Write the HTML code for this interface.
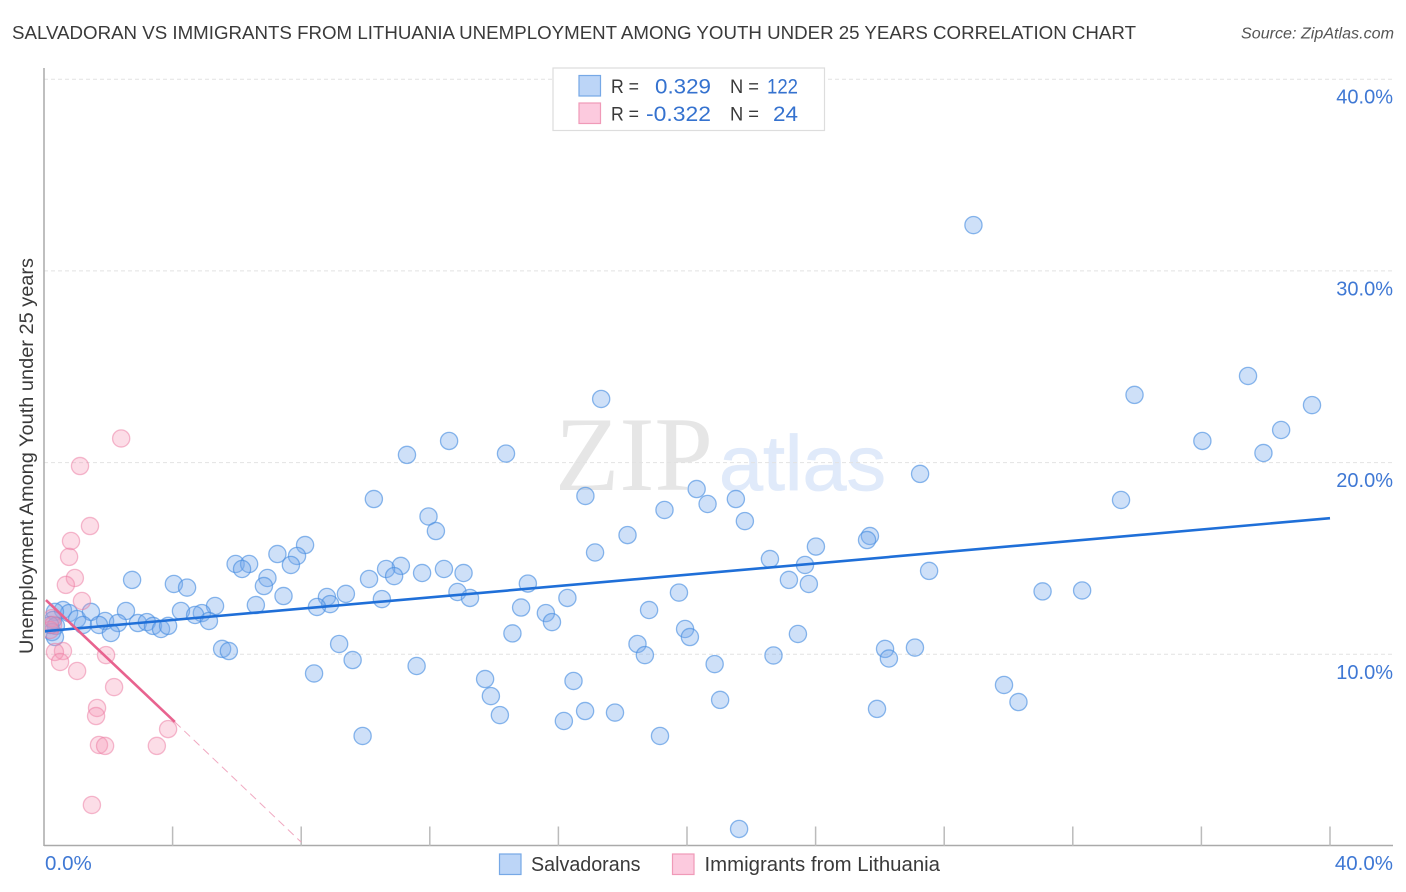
<!DOCTYPE html>
<html>
<head>
<meta charset="utf-8">
<title>Salvadoran vs Immigrants from Lithuania Correlation Chart</title>
<style>
html,body{margin:0;padding:0;background:#fff;width:1406px;height:892px;overflow:hidden}
svg{display:block;font-family:"Liberation Sans",sans-serif}
</style>
</head>
<body>
<svg id="chart" width="1406" height="892" viewBox="0 0 1406 892" xmlns="http://www.w3.org/2000/svg">
  <defs>
    <clipPath id="plot-clip"><rect x="45" y="60" width="1350" height="786"/></clipPath>
  </defs>
  <rect x="0" y="0" width="1406" height="892" fill="#fff"/>
  <text x="12" y="39" font-size="18.5" fill="#3a3a3a" textLength="1124" lengthAdjust="spacingAndGlyphs">SALVADORAN VS IMMIGRANTS FROM LITHUANIA UNEMPLOYMENT AMONG YOUTH UNDER 25 YEARS CORRELATION CHART</text>
  <text x="1241" y="38.5" font-size="15.5" font-style="italic" fill="#555" textLength="153" lengthAdjust="spacingAndGlyphs">Source: ZipAtlas.com</text>
  <text x="555" y="490" font-family="'Liberation Serif',serif" font-size="106" fill="#e6e6e6" textLength="158" lengthAdjust="spacingAndGlyphs">ZIP</text>
  <text x="719" y="490" font-family="'Liberation Sans',sans-serif" font-size="78" fill="#e0eafa" stroke="#e0eafa" stroke-width="0.8" textLength="167" lengthAdjust="spacingAndGlyphs">atlas</text>
  <g id="grid"></g>
  <line x1="44" y1="68" x2="44" y2="846" stroke="#aaa" stroke-width="1.5"/>
  <line x1="44" y1="845.5" x2="1393" y2="845.5" stroke="#aaa" stroke-width="1.5"/>
  <g id="xticks"></g>
  <g id="ylabels"></g>
  <g id="xlabels"></g>
  <text transform="translate(33,456) rotate(-90)" text-anchor="middle" font-size="19" fill="#3a3a3a" textLength="396" lengthAdjust="spacingAndGlyphs">Unemployment Among Youth under 25 years</text>
  <g clip-path="url(#plot-clip)">
    <g id="blue-points"></g>
    <g id="pink-points"></g>
    <g id="trends"></g>
  </g>

  <g>
    <rect x="553" y="68" width="271.5" height="62.5" fill="#fff" stroke="#ddd" stroke-width="1.2"/>
    <rect x="579" y="75.5" width="21.5" height="20.5" fill="#bcd5f7" stroke="#76a8e6" stroke-width="1.2"/>
    <rect x="579" y="103" width="21.5" height="20.5" fill="#fccade" stroke="#f09ab8" stroke-width="1.2"/>
    <text x="611" y="93" font-size="19.5" fill="#3a3a3a" textLength="28" lengthAdjust="spacingAndGlyphs">R =</text>
    <text x="611" y="120.5" font-size="19.5" fill="#3a3a3a" textLength="28" lengthAdjust="spacingAndGlyphs">R =</text>
    <text x="655" y="93.5" font-size="21.5" fill="#3572cf" textLength="56" lengthAdjust="spacingAndGlyphs">0.329</text>
    <text x="646" y="121" font-size="21.5" fill="#3572cf" textLength="65" lengthAdjust="spacingAndGlyphs">-0.322</text>
    <text x="730" y="93" font-size="19.5" fill="#3a3a3a" textLength="29" lengthAdjust="spacingAndGlyphs">N =</text>
    <text x="730" y="120.5" font-size="19.5" fill="#3a3a3a" textLength="29" lengthAdjust="spacingAndGlyphs">N =</text>
    <text x="767" y="93.5" font-size="21.5" fill="#3572cf" textLength="31" lengthAdjust="spacingAndGlyphs">122</text>
    <text x="773" y="121" font-size="21.5" fill="#3572cf" textLength="25" lengthAdjust="spacingAndGlyphs">24</text>
  </g>

  <g>
    <rect x="499.5" y="854" width="21.5" height="20.5" fill="#bcd5f7" stroke="#76a8e6" stroke-width="1.2"/>
    <text x="531" y="871" font-size="20" fill="#3a3a3a" textLength="109.5" lengthAdjust="spacingAndGlyphs">Salvadorans</text>
    <rect x="672.5" y="854" width="21.5" height="20.5" fill="#fccade" stroke="#f09ab8" stroke-width="1.2"/>
    <text x="704.5" y="871" font-size="20" fill="#3a3a3a" textLength="235.5" lengthAdjust="spacingAndGlyphs">Immigrants from Lithuania</text>
  </g>
</svg>
<script>
var xTickValues = [4, 8, 12, 16, 20, 24, 28, 32, 36, 40];
var yTickValues = [10, 20, 30, 40];
var yTickLabels = ["10.0%", "20.0%", "30.0%", "40.0%"];
var xEndValues = [0, 40];
var xEndLabels = ["0.0%", "40.0%"];

var salvadoransX = [28.91,17.33,37.45,33.92,39.44,38.48,36.03,12.60,11.29,14.37,37.93,27.25,20.30,10.26,16.84,21.52,33.50,20.64,19.30,11.96,21.80,12.19,18.15,25.69,25.60,24.01,8.12,7.87,7.26,5.96,6.38,6.16,7.68,17.14,22.58,23.67,11.10,10.64,12.44,10.89,11.76,13.05,27.53,10.11,6.95,6.84,23.17,23.79,15.05,2.74,4.04,4.45,31.06,32.29,19.75,9.39,7.45,8.80,10.51,12.86,13.25,16.28,6.59,5.32,8.90,8.49,14.84,18.82,15.61,4.91,4.26,2.55,4.70,5.13,15.80,19.94,14.57,20.09,23.45,9.18,18.46,5.54,5.75,26.16,27.09,18.69,26.28,22.69,9.60,11.59,20.86,8.40,13.72,16.47,29.86,13.90,21.03,30.31,25.91,14.18,16.83,17.76,16.17,19.16,9.91,21.62,0.59,0.78,1.03,1.46,1.90,1.21,1.71,2.30,2.08,2.92,3.20,3.39,3.64,3.86,0.34,0.28,0.37,0.25,0.34,0.19];
var salvadoransY = [32.39,23.32,24.52,23.53,23.00,21.70,21.13,21.13,20.40,20.47,20.50,19.41,18.62,18.10,18.26,18.10,18.05,17.84,17.53,17.19,16.95,16.43,16.22,16.17,15.96,15.62,15.70,15.13,15.23,14.71,14.71,14.45,14.66,15.31,14.97,14.66,14.61,14.45,14.45,14.08,14.24,14.24,14.35,13.93,13.98,13.56,13.88,13.67,13.69,13.88,13.67,13.48,13.28,13.33,13.22,13.15,13.04,12.99,12.88,13.25,12.94,12.94,12.57,12.52,12.62,12.47,12.44,12.31,12.15,12.15,12.26,12.26,12.05,11.74,11.68,11.32,11.09,10.90,11.06,10.54,10.54,10.28,10.17,10.28,10.35,9.96,9.78,9.94,9.70,9.39,9.49,9.00,8.71,8.61,8.40,7.82,7.62,7.51,7.15,6.83,7.04,6.96,6.52,5.74,5.74,0.89,12.31,12.15,11.84,12.21,11.74,11.53,11.53,11.63,11.11,11.63,11.68,11.48,11.32,11.48,12.21,11.79,11.48,11.16,10.90,11.53];

var lithuaniaX = [2.40,1.12,1.43,0.84,0.78,0.96,0.68,1.18,0.59,0.34,0.50,1.93,1.03,2.18,1.65,1.62,3.86,1.71,1.90,3.51,1.49,0.25,0.19,0.28];
var lithuaniaY = [21.26,19.82,16.69,15.91,15.08,13.98,13.62,12.78,10.17,10.12,9.60,9.96,9.13,8.29,7.20,6.78,6.10,5.27,5.22,5.22,2.14,11.89,11.27,11.53];

var salvadoransTrendX = [0, 40];
var salvadoransTrendY = [11.2, 17.1];
var lithuaniaTrendX = [0.06, 4.07];
var lithuaniaTrendY = [12.83, 6.47];
var lithuaniaDashX = [4.07, 8.0];
var lithuaniaDashY = [6.47, 0.2];

var NS = "http://www.w3.org/2000/svg";
function xScale(v) { return 44 + v * 32.15; }
function yScale(v) { return 846 - v * 19.17; }
function make(tag, attrs, parentId) {
  var el = document.createElementNS(NS, tag);
  for (var k in attrs) { el.setAttribute(k, attrs[k]); }
  document.getElementById(parentId).appendChild(el);
  return el;
}

yTickValues.forEach(function (v, i) {
  var g = make("line", {x1: 44, x2: 1393, y1: yScale(v), y2: yScale(v), stroke: "#e2e2e2", "stroke-width": 1, "stroke-dasharray": "4 3"}, "grid");
  
  
  var t = make("text", {x: 1393, y: yScale(v) + 24.5, "text-anchor": "end", "font-size": 20, fill: "#3f78d4"}, "ylabels");
  t.textContent = yTickLabels[i];
  
  
});

xTickValues.forEach(function (v) {
  var l = make("line", {x1: xScale(v), x2: xScale(v), y1: 826.5, y2: 846, stroke: "#bbb", "stroke-width": 1.5}, "xticks");
  
  
});

xEndValues.forEach(function (v, i) {
  var t = make("text", {x: i === 0 ? xScale(v) + 1 : 1393, y: 870, "text-anchor": i === 0 ? "start" : "end", "font-size": 20.5, fill: "#3f78d4"}, "xlabels");
  t.textContent = xEndLabels[i];
  
  
});

salvadoransX.forEach(function (v, i) {
  var c = make("circle", {cx: xScale(v), cy: yScale(salvadoransY[i]), r: 8.6, fill: "rgba(120,170,235,0.36)", stroke: "rgba(70,140,225,0.62)", "stroke-width": 1.3}, "blue-points");
  
  
});

lithuaniaX.forEach(function (v, i) {
  var c = make("circle", {cx: xScale(v), cy: yScale(lithuaniaY[i]), r: 8.6, fill: "rgba(245,150,180,0.32)", stroke: "rgba(235,120,160,0.5)", "stroke-width": 1.3}, "pink-points");
  
  
});

var blueTrend = make("line", {x1: xScale(salvadoransTrendX[0]), y1: yScale(salvadoransTrendY[0]), x2: xScale(salvadoransTrendX[1]), y2: yScale(salvadoransTrendY[1]), stroke: "#1f6fd8", "stroke-width": 2.6}, "trends");



var pinkTrend = make("line", {x1: xScale(lithuaniaTrendX[0]), y1: yScale(lithuaniaTrendY[0]), x2: xScale(lithuaniaTrendX[1]), y2: yScale(lithuaniaTrendY[1]), stroke: "#e8638f", "stroke-width": 2.6}, "trends");



var pinkDash = make("line", {x1: xScale(lithuaniaDashX[0]), y1: yScale(lithuaniaDashY[0]), x2: xScale(lithuaniaDashX[1]), y2: yScale(lithuaniaDashY[1]), stroke: "#f0a8c0", "stroke-width": 1, "stroke-dasharray": "8 5"}, "trends");


</script>
</body>
</html>
